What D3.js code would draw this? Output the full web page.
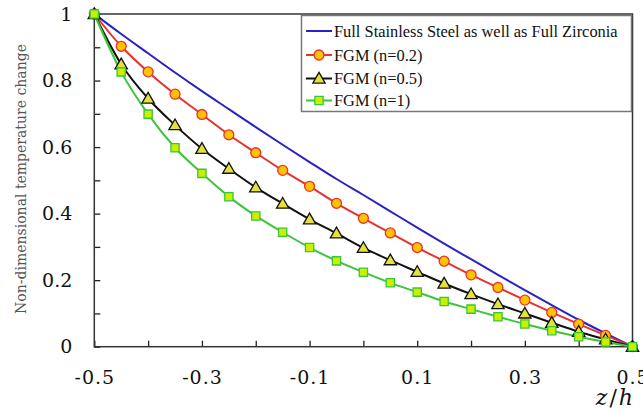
<!DOCTYPE html>
<html>
<head>
<meta charset="utf-8">
<script src="https://cdn.jsdelivr.net/npm/d3@7"></script>
<style>
  body { margin: 0; background: #fff; }
  svg { display: block; }
</style>
</head>
<body>
<svg id="chart" width="643" height="411"></svg>
<script>
// Position through the thickness, z/h
const zh = [-0.5, -0.45, -0.4, -0.35, -0.3, -0.25, -0.2, -0.15, -0.1, -0.05,
            0, 0.05, 0.1, 0.15, 0.2, 0.25, 0.3, 0.35, 0.4, 0.45, 0.5];

// Non-dimensional temperature change for each material case
const homogeneous = [1, 0.940, 0.882, 0.824, 0.768, 0.714, 0.660, 0.607, 0.555, 0.504,
                     0.456, 0.407, 0.358, 0.310, 0.263, 0.216, 0.170, 0.125, 0.081, 0.040, 0];
const fgm02 = [1, 0.903, 0.826, 0.759, 0.698, 0.637, 0.583, 0.530, 0.482, 0.431,
               0.386, 0.342, 0.298, 0.257, 0.216, 0.178, 0.140, 0.103, 0.068, 0.034, 0];
const fgm05 = [1, 0.849, 0.746, 0.666, 0.595, 0.535, 0.479, 0.430, 0.383, 0.341,
               0.297, 0.260, 0.225, 0.190, 0.158, 0.128, 0.100, 0.072, 0.045, 0.022, 0];
const fgm1 = [1, 0.826, 0.699, 0.598, 0.521, 0.451, 0.393, 0.344, 0.298, 0.258,
              0.224, 0.192, 0.164, 0.136, 0.113, 0.090, 0.068, 0.048, 0.030, 0.014, 0];

const seriesNames = ["Full Stainless Steel as well as Full Zirconia",
                     "FGM (n=0.2)", "FGM (n=0.5)", "FGM (n=1)"];

const xTicks = [-0.5, -0.4, -0.3, -0.2, -0.1, 0, 0.1, 0.2, 0.3, 0.4, 0.5];
const xTickLabels = ["-0.5", "", "-0.3", "", "-0.1", "", "0.1", "", "0.3", "", "0.5"];
const yTicks = [0, 0.1, 0.2, 0.3, 0.4, 0.5, 0.6, 0.7, 0.8, 0.9, 1];
const yTickLabels = ["0", "", "0.2", "", "0.4", "", "0.6", "", "0.8", "", "1"];

const svg = d3.select("#chart");
const plotLeft = 94.3, plotRight = 632.5, plotTop = 14, plotBottom = 346.7;

const x = d3.scaleLinear().domain([-0.5, 0.5]).range([plotLeft, plotRight]);
const y = d3.scaleLinear().domain([0, 1]).range([plotBottom, plotTop]);

const series = [
  { name: seriesNames[0], values: homogeneous, line: "#2a22c4", marker: null },
  { name: seriesNames[1], values: fgm02, line: "#e8322c", marker: "circle", fill: "#ffc400", stroke: "#e8322c" },
  { name: seriesNames[2], values: fgm05, line: "#111111", marker: "triangle", fill: "#e4e23a", stroke: "#111111" },
  { name: seriesNames[3], values: fgm1, line: "#3cc43c", marker: "square", fill: "#c8f000", stroke: "#3cc43c" }
];

const symbolFor = {
  circle: d3.symbol().type(d3.symbolCircle).size(78),
  triangle: d3.symbol().type(d3.symbolTriangle).size(66),
  square: d3.symbol().type(d3.symbolSquare).size(68)
};

// Axes
const axisFont = "'DejaVu Serif', serif";

const xAxis = d3.axisBottom(x)
  .tickValues(xTicks)
  .tickFormat((d, i) => xTickLabels[i])
  .tickSizeInner(-6).tickSizeOuter(0).tickPadding(24);

const yAxis = d3.axisLeft(y)
  .tickValues(yTicks)
  .tickFormat((d, i) => yTickLabels[i])
  .tickSizeInner(-6).tickSizeOuter(0).tickPadding(22);

const gx = svg.append("g").attr("transform", `translate(0,${plotBottom})`).call(xAxis);
const gy = svg.append("g").attr("transform", `translate(${plotLeft},0)`).call(yAxis);

[gx, gy].forEach(g => {
  g.select(".domain").remove();
  g.selectAll(".tick line").attr("stroke", "#222").attr("stroke-width", 1.3);
  g.selectAll(".tick text")
    .attr("fill", "#111")
    .style("font-family", axisFont)
    .style("font-size", "19px");
});
gx.selectAll(".tick text").attr("letter-spacing", "1px");

// Plot frame
svg.append("rect")
  .attr("x", plotLeft).attr("y", plotTop)
  .attr("width", plotRight - plotLeft).attr("height", plotBottom - plotTop)
  .attr("fill", "none").attr("stroke", "#333").attr("stroke-width", 1.5);

// Curves
const lineGen = vals => d3.line()
  .x((d, i) => x(zh[i]))
  .y(d => y(d))
  .curve(d3.curveMonotoneX)(vals);

series.forEach(s => {
  svg.append("path")
    .attr("d", lineGen(s.values))
    .attr("fill", "none")
    .attr("stroke", s.line)
    .attr("stroke-width", 2);
});

series.forEach(s => {
  if (!s.marker) return;
  svg.append("g").selectAll("path")
    .data(s.values)
    .join("path")
    .attr("d", symbolFor[s.marker])
    .attr("transform", (d, i) => `translate(${x(zh[i])},${y(d) + (s.marker === "triangle" ? 1 : 0)})`)
    .attr("fill", s.fill)
    .attr("stroke", s.stroke)
    .attr("stroke-width", 1.3);
});

// Legend
const lg = svg.append("g");
lg.append("rect")
  .attr("x", 301.5).attr("y", 15.5)
  .attr("width", 330).attr("height", 96)
  .attr("fill", "#fff").attr("stroke", "#777").attr("stroke-width", 1.5);

const rowY = [31, 55, 78.5, 100.5];
series.forEach((s, i) => {
  const row = lg.append("g").attr("transform", `translate(0,${rowY[i]})`);
  row.append("line")
    .attr("x1", 306).attr("x2", 332)
    .attr("stroke", s.line).attr("stroke-width", 2);
  if (s.marker) {
    row.append("path")
      .attr("d", symbolFor[s.marker])
      .attr("transform", `translate(319,${s.marker === "triangle" ? 1 : 0})`)
      .attr("fill", s.fill).attr("stroke", s.stroke).attr("stroke-width", 1.3);
  }
  row.append("text")
    .attr("x", 334).attr("dy", "0.35em")
    .style("font-family", "'Liberation Serif', serif")
    .style("font-size", "16.4px")
    .attr("fill", "#111")
    .text(s.name);
});

// Axis titles
svg.append("text")
  .attr("transform", "translate(26,179) rotate(-90)")
  .attr("text-anchor", "middle")
  .style("font-family", "'DejaVu Serif', serif")
  .style("font-size", "14px")
  .attr("fill", "#555")
  .text("Non-dimensional temperature change");

const xt = svg.append("text")
  .attr("x", 633).attr("y", 405)
  .attr("text-anchor", "end")
  .style("font-family", "'DejaVu Serif', serif")
  .style("font-style", "italic")
  .style("font-size", "22px")
  .attr("fill", "#111");
xt.append("tspan").text("z");
xt.append("tspan").attr("font-style", "normal").attr("dx", 2).text("/");
xt.append("tspan").attr("dx", 2).text("h");
</script>
</body>
</html>
